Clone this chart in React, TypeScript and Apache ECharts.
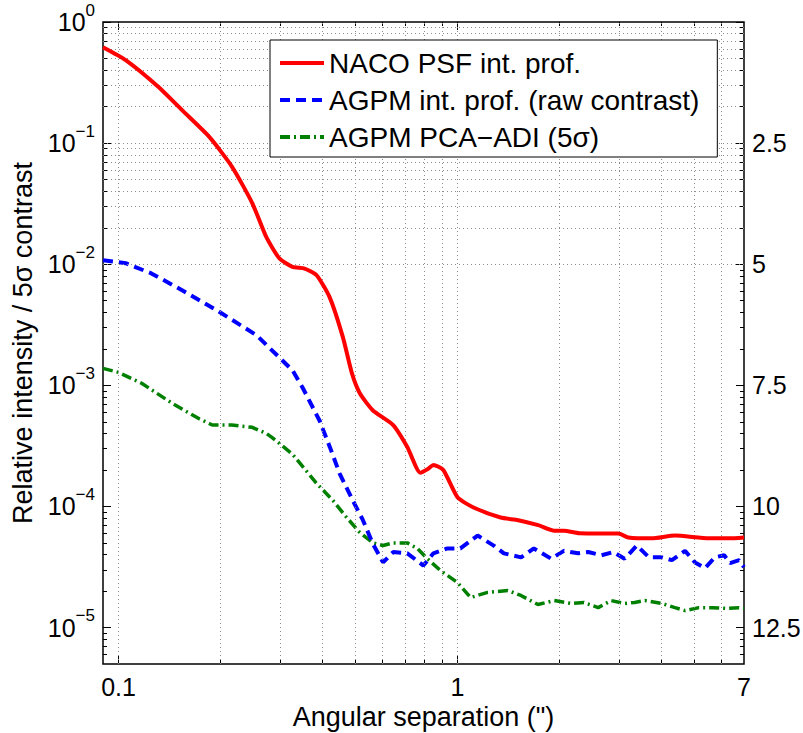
import React, { useEffect, useRef } from "react";
import * as echarts from "echarts";

// ---------- data ----------
const redX = [0.09, 0.105, 0.131, 0.154, 0.185, 0.216, 0.248, 0.273, 0.298, 0.326, 0.354, 0.384, 0.42, 0.459, 0.488, 0.515, 0.563, 0.646, 0.711, 0.777, 0.82, 0.849, 0.908, 1.0, 1.115, 1.34, 1.51, 1.73, 1.93, 2.06, 2.29, 2.66, 2.98, 3.19, 3.74, 4.38, 5.52, 6.33, 7];
const redY = [0.62, 0.485, 0.292, 0.187, 0.113, 0.064, 0.032, 0.0167, 0.0112, 0.0095, 0.0092, 0.0081, 0.0053, 0.0025, 0.00126, 0.00086, 0.00062, 0.00047, 0.00031, 0.00019, 0.000205, 0.00022, 0.0002, 0.000119, 9.8e-5, 8.1e-5, 7.7e-5, 7.0e-5, 6.3e-5, 6.3e-5, 6.0e-5, 5.98e-5, 5.98e-5, 5.55e-5, 5.45e-5, 5.75e-5, 5.45e-5, 5.45e-5, 5.55e-5];

const blueX = [0.09, 0.105, 0.125, 0.154, 0.194, 0.255, 0.298, 0.326, 0.349, 0.392, 0.42, 0.449, 0.491, 0.526, 0.563, 0.603, 0.646, 0.711, 0.793, 0.849, 0.934, 1.02, 1.146, 1.279, 1.37, 1.54, 1.68, 1.89, 2.06, 2.27, 2.43, 2.66, 2.88, 3.11, 3.38, 3.67, 4.01, 4.29, 4.69, 5.02, 5.37, 5.75, 6.12, 6.37, 6.77, 7];
const blueY = [0.0108, 0.0102, 0.0084, 0.0061, 0.0042, 0.0026, 0.0017, 0.00133, 0.00096, 0.00051, 0.00031, 0.000187, 0.000112, 7.7e-5, 4.9e-5, 3.45e-5, 4.2e-5, 4.1e-5, 3.25e-5, 4.1e-5, 4.5e-5, 4.5e-5, 5.75e-5, 4.75e-5, 4.1e-5, 3.8e-5, 4.5e-5, 3.7e-5, 4.3e-5, 4.1e-5, 4.2e-5, 3.95e-5, 4.2e-5, 3.7e-5, 4.75e-5, 3.8e-5, 3.8e-5, 3.6e-5, 4.3e-5, 3.45e-5, 3.1e-5, 3.8e-5, 3.95e-5, 3.4e-5, 3.6e-5, 3.15e-5];

const greenX = [0.09, 0.1, 0.117, 0.144, 0.173, 0.189, 0.216, 0.248, 0.273, 0.284, 0.326, 0.384, 0.429, 0.471, 0.515, 0.563, 0.603, 0.646, 0.711, 0.761, 0.815, 0.89, 1.0, 1.093, 1.227, 1.407, 1.538, 1.727, 1.93, 2.165, 2.36, 2.6, 2.84, 3.11, 3.33, 3.57, 4.01, 4.38, 4.69, 5.15, 5.63, 6.16, 6.77, 7];
const greenY = [0.00138, 0.00128, 0.00104, 0.00071, 0.00053, 0.00047, 0.00047, 0.00045, 0.0004, 0.00037, 0.00027, 0.000155, 0.000112, 8.1e-5, 6.1e-5, 5.0e-5, 4.76e-5, 5.0e-5, 5.0e-5, 4.5e-5, 3.7e-5, 2.96e-5, 2.35e-5, 1.77e-5, 1.95e-5, 2.02e-5, 1.84e-5, 1.55e-5, 1.67e-5, 1.58e-5, 1.61e-5, 1.46e-5, 1.67e-5, 1.58e-5, 1.61e-5, 1.67e-5, 1.58e-5, 1.46e-5, 1.38e-5, 1.46e-5, 1.46e-5, 1.44e-5, 1.46e-5, 1.44e-5];

const seriesNames = [
  "NACO PSF int. prof.",
  "AGPM int. prof. (raw contrast)",
  "AGPM PCA\u2212ADI (5\u03c3)",
];

// tick labels
const xTickLabels = [0.1, 1, 7];
const xMajorTicks = [0.1, 1];
const yTickLabels = [1, 0.1, 0.01, 1e-3, 1e-4, 1e-5];
const magTickLabels = [0.1, 0.01, 1e-3, 1e-4, 1e-5]; // shown as 2.5 ... 12.5 mag

// axis ranges
const X_MIN = 0.09;
const X_MAX = 7;
const Y_MIN = 5e-6;
const Y_MAX = 1;

// minor grid / tick positions (2..9 × each decade inside the range)
const xMinor = [0.2, 0.3, 0.4, 0.5, 0.6, 0.7, 0.8, 0.9, 2, 3, 4, 5, 6];
const yMinor = [
  6e-6, 7e-6, 8e-6, 9e-6,
  2e-5, 3e-5, 4e-5, 5e-5, 6e-5, 7e-5, 8e-5, 9e-5,
  2e-4, 3e-4, 4e-4, 5e-4, 6e-4, 7e-4, 8e-4, 9e-4,
  2e-3, 3e-3, 4e-3, 5e-3, 6e-3, 7e-3, 8e-3, 9e-3,
  0.02, 0.03, 0.04, 0.05, 0.06, 0.07, 0.08, 0.09,
  0.2, 0.3, 0.4, 0.5, 0.6, 0.7, 0.8, 0.9,
];
const xGridVals = [0.1, ...xMinor, 1].sort((a, b) => a - b);
const yGridVals = [...yMinor, 1e-5, 1e-4, 1e-3, 0.01, 0.1].sort((a, b) => a - b);

const FONT = "'Liberation Sans', Arial, Helvetica, sans-serif";

const zip = (xs: number[], ys: number[]) => xs.map((x, i) => [x, ys[i]]);

function expLabel(v: number) {
  const e = Math.round(Math.log10(v));
  const s = e < 0 ? "\u2212" + -e : String(e);
  return `{b|10}{s|${s}}`;
}

function magLabel(v: number) {
  const m = -2.5 * Math.log10(v);
  return String(Math.round(m * 10) / 10);
}

function logAxisBase(extra: any) {
  return {
    type: "log",
    logBase: 10,
    axisLine: { show: false },
    splitLine: { show: false },
    minorTick: { show: false },
    ...extra,
  };
}

export default function App() {
  const ref = useRef<HTMLDivElement>(null);

  useEffect(() => {
    if (!ref.current) return;
    const chart = echarts.init(ref.current, undefined, { renderer: "svg" });

    const tickStyle = { color: "#000", width: 1 };
    const noLabel = { show: false };

    const xAxes = [
      logAxisBase({
        min: X_MIN,
        max: X_MAX,
        position: "bottom",
        axisTick: { show: true, inside: true, length: 8, customValues: xMajorTicks, lineStyle: tickStyle },
        axisLabel: {
          show: true,
          customValues: xTickLabels,
          formatter: (v: number) => String(v),
          fontSize: 25,
          fontFamily: FONT,
          color: "#000",
          margin: 10,
          showMinLabel: true,
          showMaxLabel: true,
          hideOverlap: false,
        },
        name: 'Angular separation (")',
        nameLocation: "middle",
        nameGap: 31,
        nameTextStyle: { fontSize: 27, fontFamily: FONT, color: "#000" },
      }),
      logAxisBase({
        min: X_MIN,
        max: X_MAX,
        position: "top",
        axisTick: { show: true, inside: true, length: 8, customValues: xMajorTicks, lineStyle: tickStyle },
        axisLabel: noLabel,
      }),
      logAxisBase({
        min: X_MIN,
        max: X_MAX,
        position: "bottom",
        axisTick: { show: true, inside: true, length: 4, customValues: xMinor, lineStyle: tickStyle },
        axisLabel: noLabel,
      }),
      logAxisBase({
        min: X_MIN,
        max: X_MAX,
        position: "top",
        axisTick: { show: true, inside: true, length: 4, customValues: xMinor, lineStyle: tickStyle },
        axisLabel: noLabel,
      }),
    ];

    const yAxes = [
      logAxisBase({
        min: Y_MIN,
        max: Y_MAX,
        position: "left",
        axisTick: { show: true, inside: true, length: 8, customValues: yTickLabels, lineStyle: tickStyle },
        axisLabel: {
          show: true,
          customValues: yTickLabels,
          formatter: expLabel,
          color: "#000",
          margin: 8,
          showMinLabel: true,
          showMaxLabel: true,
          hideOverlap: false,
          rich: {
            b: { fontSize: 25, fontFamily: FONT, color: "#000" },
            s: { fontSize: 17, fontFamily: FONT, color: "#000", padding: [0, 0, 24, 0] },
          },
        },
        name: "Relative intensity / 5\u03c3 contrast",
        nameLocation: "middle",
        nameGap: 66,
        nameTextStyle: { fontSize: 27, fontFamily: FONT, color: "#000" },
      }),
      logAxisBase({
        min: Y_MIN,
        max: Y_MAX,
        position: "right",
        axisTick: { show: true, inside: true, length: 8, customValues: yTickLabels, lineStyle: tickStyle },
        axisLabel: {
          show: true,
          customValues: magTickLabels,
          formatter: magLabel,
          fontSize: 25,
          fontFamily: FONT,
          color: "#000",
          margin: 8,
          showMinLabel: true,
          showMaxLabel: true,
          hideOverlap: false,
        },
      }),
      logAxisBase({
        min: Y_MIN,
        max: Y_MAX,
        position: "left",
        axisTick: { show: true, inside: true, length: 4, customValues: yMinor, lineStyle: tickStyle },
        axisLabel: noLabel,
      }),
      logAxisBase({
        min: Y_MIN,
        max: Y_MAX,
        position: "right",
        axisTick: { show: true, inside: true, length: 4, customValues: yMinor, lineStyle: tickStyle },
        axisLabel: noLabel,
      }),
    ];

    const gridLineData = [
      ...xGridVals.map((v) => ({ xAxis: v })),
      ...yGridVals.map((v) => ({ yAxis: v })),
    ];

    const option: any = {
      animation: false,
      backgroundColor: "#fff",
      grid: {
        left: 103,
        top: 22,
        right: 59,
        bottom: 69,
        show: true,
        borderColor: "#000",
        borderWidth: 1.5,
        backgroundColor: "transparent",
        containLabel: false,
        outerBoundsMode: "none",
      },
      legend: {
        orient: "vertical",
        left: 270,
        top: 40,
        itemWidth: 44,
        itemHeight: 14,
        itemGap: 7,
        padding: [8, 18, 5, 8],
        backgroundColor: "#fff",
        borderColor: "#000",
        borderWidth: 1,
        borderRadius: 0,
        itemStyle: { opacity: 0 },
        lineStyle: { width: 4 },
        textStyle: { fontSize: 28, fontFamily: FONT, color: "#000", lineHeight: 30 },
        data: seriesNames,
        z: 10,
      },
      xAxis: xAxes,
      yAxis: yAxes,
      series: [
        {
          name: "__grid",
          type: "line",
          xAxisIndex: 0,
          yAxisIndex: 0,
          data: [[1, 1e-3]],
          symbol: "none",
          lineStyle: { opacity: 0 },
          silent: true,
          z: 1,
          markLine: {
            silent: true,
            symbol: ["none", "none"],
            label: { show: false },
            lineStyle: { color: "#8c8c8c", type: [1, 3], width: 1 },
            data: gridLineData,
          },
        },
        {
          name: seriesNames[0],
          type: "line",
          xAxisIndex: 0,
          yAxisIndex: 0,
          data: zip(redX, redY),
          symbol: "none",
          smooth: 0.2,
          lineStyle: { color: "#ff0000", width: 4 },
          itemStyle: { color: "#ff0000", opacity: 0 },
          z: 5,
        },
        {
          name: seriesNames[1],
          type: "line",
          xAxisIndex: 0,
          yAxisIndex: 0,
          data: zip(blueX, blueY),
          symbol: "none",
          lineStyle: { color: "#0000ff", width: 4, type: [10, 6] },
          itemStyle: { color: "#0000ff", opacity: 0 },
          z: 4,
        },
        {
          name: seriesNames[2],
          type: "line",
          xAxisIndex: 0,
          yAxisIndex: 0,
          data: zip(greenX, greenY),
          symbol: "none",
          lineStyle: { color: "#008000", width: 3.5, type: [10, 4, 2, 4] },
          itemStyle: { color: "#008000", opacity: 0 },
          z: 3,
        },
      ],
    };

    chart.setOption(option);
    return () => chart.dispose();
  }, []);

  return (
    <div
      ref={ref}
      style={{ position: "fixed", left: 0, top: 0, width: 803, height: 733, background: "#fff" }}
    />
  );
}
